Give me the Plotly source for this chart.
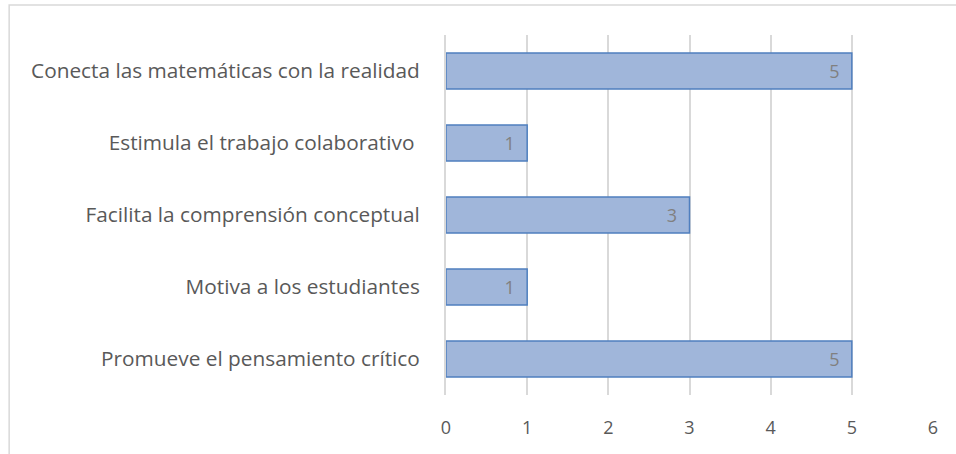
import plotly.graph_objects as go

# Chart data
categories = [
    "Conecta las matemáticas con la realidad",
    "Estimula el trabajo colaborativo\u00a0",
    "Facilita la comprensión conceptual",
    "Motiva a los estudiantes",
    "Promueve el pensamiento crítico",
]
counts = [5, 1, 3, 1, 5]
x_ticks = [0, 1, 2, 3, 4, 5, 6]

FONT = "Open Sans"
LABEL_GRAY = "#595959"
GRID_GRAY = "#d9d9d9"

fig = go.Figure()

fig.add_trace(
    go.Bar(
        x=counts,
        y=categories,
        orientation='h',
        text=[str(v) for v in counts],
        texttemplate="%{text}\u00a0\u00a0",
        textposition='inside',
        insidetextanchor='end',
        textfont=dict(family=FONT, size=18, color="#808080"),
        marker=dict(color="#a0b6da", line=dict(color="#4f7fbf", width=1.5)),
        width=0.5,
        showlegend=False,
        hoverinfo='skip',
    )
)

fig.update_xaxes(
    range=[0, 6],
    tickvals=x_ticks,
    showgrid=True,
    gridcolor=GRID_GRAY,
    gridwidth=2,
    zeroline=False,
    showline=False,
    tickfont=dict(family=FONT, size=18, color=LABEL_GRAY),
    ticklabelstandoff=20,
)

fig.update_yaxes(
    autorange='reversed',
    showgrid=False,
    showline=True,
    linecolor=GRID_GRAY,
    linewidth=2,
    tickfont=dict(family=FONT, size=20.8, color=LABEL_GRAY),
    ticklabelstandoff=20,
)

# Light frame around the chart area (top and left edges visible)
fig.add_shape(
    type='rect', xref='paper', yref='paper',
    x0=-0.897, x1=1.06, y0=-0.17, y1=1.083,
    line=dict(color=GRID_GRAY, width=1.5),
    fillcolor='rgba(0,0,0,0)', layer='below',
)

fig.update_layout(
    width=956,
    height=454,
    margin=dict(l=446, r=23, t=35, b=59),
    plot_bgcolor='white',
    paper_bgcolor='white',
    bargap=0.5,
)

# Remove the default page margin so the figure sits at the window's corner
fig.write_html(
    "out.html",
    config={'displayModeBar': False},
    post_script="document.body.style.margin='0';",
)
